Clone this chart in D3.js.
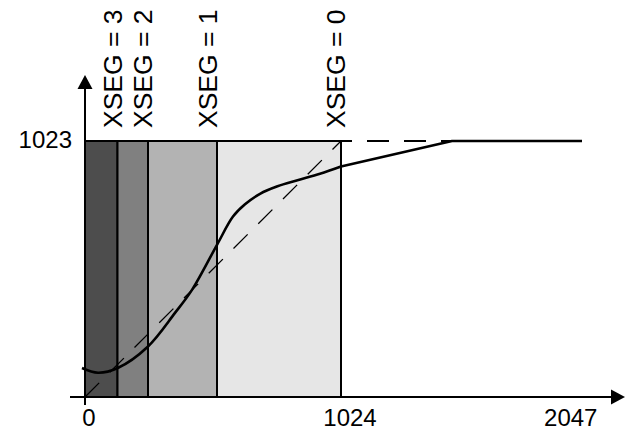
<!DOCTYPE html>
<html>
<head>
<meta charset="utf-8">
<script src="https://cdn.jsdelivr.net/npm/d3@7"></script>
<style>
  body { margin: 0; background: #fff; }
  svg { display: block; }
</style>
</head>
<body>
<div id="chart"></div>
<script>
// segment boundaries on the input axis (0..1024) and their XSEG labels
var segEdges = [0, 130, 252, 528, 1024];
var segLabels = ["XSEG = 3", "XSEG = 2", "XSEG = 1", "XSEG = 0"];
var segFills = ["#4d4d4d", "#808080", "#b3b3b3", "#e6e6e6"];

// transfer curve: smooth part, then straight run to the clip
var curveX = [-12, 52, 131, 251, 360, 428, 528, 592, 640, 700, 770, 850, 940, 1024];
var curveY = [116, 97, 116, 201, 336, 428, 608, 721, 770, 812, 842, 866, 892, 921];
var tailX = [1024, 1468, 1988];
var tailY = [921, 1023, 1023];

// linear reference (dashed)
var refX = [0, 1024];
var refY = [0, 1023];
var capX = [1024, 1468];

var xTicks = [0, 1024, 2047];
var yTicks = [1023];

var w = 627;
var h = 430;

var x = d3.scaleLinear().domain([0, 1024]).range([85, 341]);
var y = d3.scaleLinear().domain([0, 1023]).range([397, 141]);

var svg = d3.select("#chart")
  .append("svg")
  .attr("width", w)
  .attr("height", h);

var font = "'Liberation Sans', Arial, Helvetica, sans-serif";

// shaded segments
var segs = segFills.map(function(f, i) {
  return { x0: segEdges[i], x1: segEdges[i + 1], fill: f, label: segLabels[i] };
});

svg.selectAll("rect.seg")
  .data(segs)
  .enter()
  .append("rect")
  .attr("class", "seg")
  .attr("x", function(d) { return x(d.x0); })
  .attr("y", y(1023))
  .attr("width", function(d) { return x(d.x1) - x(d.x0); })
  .attr("height", y(0) - y(1023))
  .attr("fill", function(d) { return d.fill; })
  .attr("stroke", "#000")
  .attr("stroke-width", 2);

// dashed linear reference
svg.append("line")
  .attr("x1", x(refX[0])).attr("y1", y(refY[0]))
  .attr("x2", x(refX[1])).attr("y2", y(refY[1]))
  .attr("stroke", "#000")
  .attr("stroke-width", 1.3)
  .attr("stroke-dasharray", "20,15");

svg.append("line")
  .attr("x1", x(capX[0])).attr("y1", y(1023))
  .attr("x2", x(capX[1])).attr("y2", y(1023))
  .attr("stroke", "#000")
  .attr("stroke-width", 2)
  .attr("stroke-dasharray", "22,15")
  .attr("stroke-dashoffset", 11);

// transfer curve
var pts = curveX.map(function(v, i) { return [v, curveY[i]]; });
var tail = tailX.map(function(v, i) { return [v, tailY[i]]; });

var smooth = d3.line()
  .x(function(d) { return x(d[0]); })
  .y(function(d) { return y(d[1]); })
  .curve(d3.curveCatmullRom.alpha(0.5));
var straight = d3.line()
  .x(function(d) { return x(d[0]); })
  .y(function(d) { return y(d[1]); });

svg.append("path")
  .attr("d", smooth(pts) + straight(tail).replace(/^M/, "L"))
  .attr("fill", "none")
  .attr("stroke", "#000")
  .attr("stroke-width", 2.6)
  .attr("stroke-linejoin", "round");

// axes
svg.append("line")
  .attr("x1", 70).attr("y1", y(0))
  .attr("x2", 613).attr("y2", y(0))
  .attr("stroke", "#000").attr("stroke-width", 2);
svg.append("path")
  .attr("d", "M625," + y(0) + "L611," + (y(0) - 7.5) + "L611," + (y(0) + 7.5) + "Z")
  .attr("fill", "#000");

svg.append("line")
  .attr("x1", x(0)).attr("y1", 405)
  .attr("x2", x(0)).attr("y2", 86)
  .attr("stroke", "#000").attr("stroke-width", 2);
svg.append("path")
  .attr("d", "M" + x(0) + ",75L" + (x(0) - 7.5) + ",89L" + (x(0) + 7.5) + ",89Z")
  .attr("fill", "#000");

// tick labels
var tickDx = [4, 9, -26];
svg.selectAll("text.xt")
  .data(xTicks)
  .enter()
  .append("text")
  .attr("class", "xt")
  .attr("x", function(d, i) { return x(d) + tickDx[i]; })
  .attr("y", 426)
  .attr("text-anchor", "middle")
  .attr("font-family", font)
  .attr("font-size", "24px")
  .text(function(d) { return d; });

svg.selectAll("text.yt")
  .data(yTicks)
  .enter()
  .append("text")
  .attr("class", "yt")
  .attr("x", 72)
  .attr("y", function(d) { return y(d) + 7; })
  .attr("text-anchor", "end")
  .attr("font-family", font)
  .attr("font-size", "24px")
  .text(function(d) { return d; });

// segment labels, rotated
svg.selectAll("text.seglab")
  .data(segs)
  .enter()
  .append("text")
  .attr("class", "seglab")
  .attr("transform", function(d, i) {
    var bx = x(d.x1) + (i == 2 ? 0 : 4);
    return "translate(" + bx + ",128) rotate(-90)";
  })
  .attr("text-anchor", "start")
  .attr("font-family", font)
  .attr("font-size", "26.5px")
  .text(function(d) { return d.label; });
</script>
</body>
</html>
